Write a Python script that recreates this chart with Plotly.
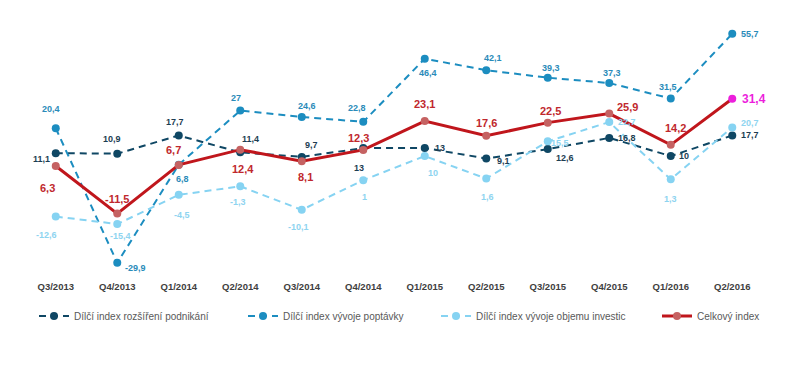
import plotly.graph_objects as go

categories = ["Q3/2013", "Q4/2013", "Q1/2014", "Q2/2014", "Q3/2014", "Q4/2014",
              "Q1/2015", "Q2/2015", "Q3/2015", "Q4/2015", "Q1/2016", "Q2/2016"]

rozsireni = [11.1, 10.9, 17.7, 11.4, 9.7, 13, 13, 9.1, 12.6, 16.8, 10, 17.7]
poptavka = [20.4, -29.9, 6.8, 27, 24.6, 22.8, 46.4, 42.1, 39.3, 37.3, 31.5, 55.7]
investice = [-12.6, -15.4, -4.5, -1.3, -10.1, 1, 10, 1.6, 15.5, 22.7, 1.3, 20.7]
celkovy = [6.3, -11.5, 6.7, 12.4, 8.1, 12.3, 23.1, 17.6, 22.5, 25.9, 14.2, 31.4]

names = ["Dílčí index rozšíření podnikání", "Dílčí index vývoje poptávky",
         "Dílčí index vývoje objemu investic", "Celkový index"]

# label offsets in pixels (dx, dy)
off_roz = [(-14, -6), (-5, 15), (-4, 13), (10, 13), (10, 12), (-4, -20),
           (15, 0), (17, -3), (17, -9), (18, 0), (13, 0), (18, 0)]
off_pop = [(-5, 19), (18, -5), (4, -14), (-4, 13), (5, 11), (-6, 14),
           (3, -14), (7, 12), (3, 10), (3, 10), (-3, 12), (18, 0)]
off_inv = [(-9, -18), (3, -12), (3, -20), (-2, -16), (-3, -17), (1, -17),
           (8, -17), (1, -18), (12, -2), (18, 0), (0, -20), (18, 4)]
off_cel = [(-8, -22), (0, 15), (-5, 15), (3, -19), (4, -16), (-5, 12),
           (0, 17), (0, 13), (3, 12), (18, 7), (5, 17), (22, 0)]

C_ROZ = "#0f4764"
C_POP = "#1c8dc0"
C_INV = "#86d3f2"
C_CEL = "#c0161c"
C_CEL_M = "#c56262"
C_LAST = "#ec1fdc"

FONT = "Liberation Sans, Arial, sans-serif"


def fmt(v):
    return f"{v:g}".replace(".", ",")


fig = go.Figure()

series = [
    (rozsireni, C_ROZ, "#1c3d52", off_roz, "legend"),
    (poptavka, C_POP, "#2a8bb9", off_pop, "legend2"),
    (investice, C_INV, "#8ed4f0", off_inv, "legend3"),
]
for (vals, col, tcol, offs, lg), nm in zip(series, names[:3]):
    fig.add_trace(go.Scatter(
        x=categories, y=vals, name=nm, mode="lines+markers",
        line=dict(color=col, width=2, dash="7px,5px"),
        marker=dict(color=col, size=8),
        legend=lg, hoverinfo="skip"))
    for c, v, (dx, dy) in zip(categories, vals, offs):
        fig.add_annotation(x=c, y=v, text=fmt(v), showarrow=False,
                           xshift=dx, yshift=dy,
                           font=dict(family=FONT, size=9, color=tcol, weight="bold"))

cel_marker_colors = [C_CEL_M] * (len(celkovy) - 1) + [C_LAST]
fig.add_trace(go.Scatter(
    x=categories, y=celkovy, name=names[3], mode="lines+markers",
    line=dict(color=C_CEL, width=3),
    marker=dict(color=cel_marker_colors, size=8),
    legend="legend4", hoverinfo="skip"))
for i, (c, v, (dx, dy)) in enumerate(zip(categories, celkovy, off_cel)):
    last = i == len(celkovy) - 1
    fig.add_annotation(x=c, y=v, text=fmt(v), showarrow=False,
                       xshift=dx, yshift=dy,
                       font=dict(family=FONT, size=12 if last else 11,
                                 color=C_LAST if last else "#c0282d", weight="bold"))

# the page body adds an 8px offset, compensated here
L, R, T, B = 17, 45, 2, 103
W, H = 800, 370
pw = W - L - R
ph = H - T - B


def lx(px):
    return (px - L) / pw


ly = (H - B - 308) / ph
leg_common = dict(orientation="h", yanchor="middle", y=ly, xanchor="left",
                  font=dict(family=FONT, size=10, color="#595959"),
                  bgcolor="rgba(0,0,0,0)", borderwidth=0)

fig.update_layout(
    width=W, height=H,
    margin=dict(l=L, r=R, t=T, b=B),
    paper_bgcolor="white", plot_bgcolor="white",
    font=dict(family=FONT),
    showlegend=True,
    legend=dict(x=lx(26), **leg_common),
    legend2=dict(x=lx(235), **leg_common),
    legend3=dict(x=lx(428), **leg_common),
    legend4=dict(x=lx(649), **leg_common),
    xaxis=dict(type="category", range=[-0.5, 11.5], showgrid=False, showline=False,
               zeroline=False, ticks="", ticklabelstandoff=4,
               tickfont=dict(family=FONT, size=9.5, color="#404040", weight="bold")),
    yaxis=dict(range=[-34.45, 64.6], showgrid=False, showline=False, zeroline=False,
               showticklabels=False, ticks=""),
)

fig.write_html("out.html")
